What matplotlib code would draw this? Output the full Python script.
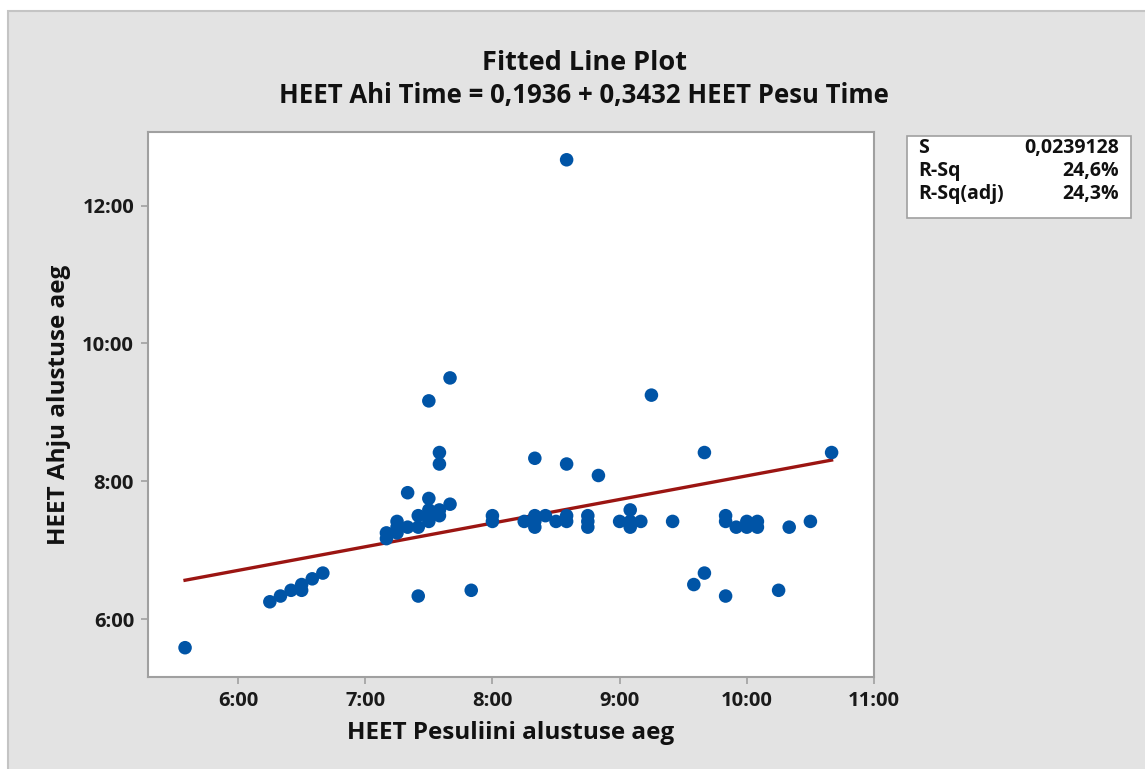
import numpy as np
import matplotlib.pyplot as plt
from matplotlib.patches import Rectangle
from matplotlib.ticker import FixedLocator, FuncFormatter

# HEET Pesuliini alustuse aeg (x) vs HEET Ahju alustuse aeg (y), clock times
pesu_times = ["5:35", "6:15", "6:20", "6:25", "6:30", "6:30", "6:35", "6:40",
              "7:10", "7:10", "7:15", "7:15", "7:15", "7:20", "7:20",
              "7:25", "7:25", "7:25", "7:30", "7:30", "7:30", "7:30", "7:30",
              "7:35", "7:35", "7:35", "7:35", "7:40", "7:40", "7:50",
              "8:00", "8:00", "8:15", "8:20", "8:20", "8:20", "8:20", "8:25",
              "8:30", "8:35", "8:35", "8:35", "8:35", "8:45", "8:45", "8:45",
              "8:50", "9:00", "9:05", "9:05", "9:05", "9:10", "9:15", "9:25",
              "9:35", "9:40", "9:40", "9:50", "9:50", "9:50", "9:55",
              "10:00", "10:00", "10:05", "10:05", "10:15", "10:20", "10:30", "10:40"]
ahi_times = ["5:35", "6:15", "6:20", "6:25", "6:30", "6:25", "6:35", "6:40",
             "7:15", "7:10", "7:25", "7:20", "7:15", "7:20", "7:50",
             "7:30", "7:20", "6:20", "7:45", "7:35", "7:30", "7:25", "9:10",
             "7:35", "7:30", "8:25", "8:15", "7:40", "9:30", "6:25",
             "7:30", "7:25", "7:25", "7:30", "7:25", "7:20", "8:20", "7:30",
             "7:25", "7:30", "7:25", "8:15", "12:40", "7:30", "7:25", "7:20",
             "8:05", "7:25", "7:35", "7:25", "7:20", "7:25", "9:15", "7:25",
             "6:30", "8:25", "6:40", "7:30", "7:25", "6:20", "7:20",
             "7:25", "7:20", "7:25", "7:20", "6:25", "7:20", "7:25", "8:25"]

# regression coefficients (time as fraction of a day)
b0, b1 = 0.1936, 0.3432
stat_names = ["S", "R-Sq", "R-Sq(adj)"]
stat_values = ["0,0239128", "24,6%", "24,3%"]

x_ticks = [6, 7, 8, 9, 10, 11]
y_ticks = [6, 8, 10, 12]


def to_hours(t):
    h, m = t.split(":")
    return int(h) + int(m) / 60.0


x = np.array([to_hours(t) for t in pesu_times])
y = np.array([to_hours(t) for t in ahi_times])

plt.rcParams['font.family'] = ['Open Sans', 'DejaVu Sans']
W, H = 1145, 769
fig = plt.figure(figsize=(W / 100, H / 100), dpi=100, facecolor='white')

# grey panel behind everything (own axes, lowest zorder)
bg = fig.add_axes([0, 0, 1, 1], zorder=-10)
bg.set_xlim(0, W)
bg.set_ylim(H, 0)
bg.axis('off')
bg.add_patch(Rectangle((8, 11), W, H, facecolor='#E3E3E3', edgecolor='#C4C4C4', lw=1.5))
# stats box
bg.add_patch(Rectangle((907, 136), 1131 - 907, 218 - 136, facecolor='white',
                       edgecolor='#A0A0A0', lw=1.2))

ax = fig.add_axes([148 / W, 1 - 677 / H, (874 - 148) / W, (677 - 132) / H])
ax.set_facecolor('white')

ax.scatter(x, y, s=95, color='#0054A6', edgecolors='none', zorder=3)
xs = np.array([x.min(), x.max()])
ax.plot(xs, 24 * b0 + b1 * xs, color='#9B1512', lw=2.4, zorder=2)

ax.set_xlim(5.292, 11.0)
ax.set_ylim(5.158, 13.07)
ax.xaxis.set_major_locator(FixedLocator(x_ticks))
ax.yaxis.set_major_locator(FixedLocator(y_ticks))
fmt = FuncFormatter(lambda v, p: "%d:00" % round(v))
ax.xaxis.set_major_formatter(fmt)
ax.yaxis.set_major_formatter(fmt)

for s in ax.spines.values():
    s.set_color('#A0A0A0')
    s.set_linewidth(1.5)

ax.tick_params(axis='both', direction='out', length=5, width=1.2, color='#A0A0A0',
               labelsize=14.5, labelcolor='#1A1A1A', pad=5)
for lab in ax.get_xticklabels() + ax.get_yticklabels():
    lab.set_fontweight('bold')

ax.set_xlabel("HEET Pesuliini alustuse aeg", fontsize=17.5, fontweight='bold',
              color='#111111', labelpad=7)
ax.set_ylabel("HEET Ahju alustuse aeg", fontsize=17.5, fontweight='bold',
              color='#111111', labelpad=8)

fig.text(584 / W, 1 - 63 / H, "Fitted Line Plot", ha='center', va='center',
         fontsize=19.5, fontweight='bold', color='#111111')
fig.text(584 / W, 1 - 96 / H, "HEET Ahi Time = 0,1936 + 0,3432 HEET Pesu Time",
         ha='center', va='center', fontsize=18.5, fontweight='bold', color='#111111')

row_y = [148, 171, 194]
for name, val, ry in zip(stat_names, stat_values, row_y):
    fig.text(918 / W, 1 - ry / H, name, ha='left', va='center', fontsize=14,
             fontweight='bold', color='#111111')
    fig.text(1119 / W, 1 - ry / H, val, ha='right', va='center', fontsize=14,
             fontweight='bold', color='#111111')

fig.savefig("out.png", dpi=100, facecolor=fig.get_facecolor())
